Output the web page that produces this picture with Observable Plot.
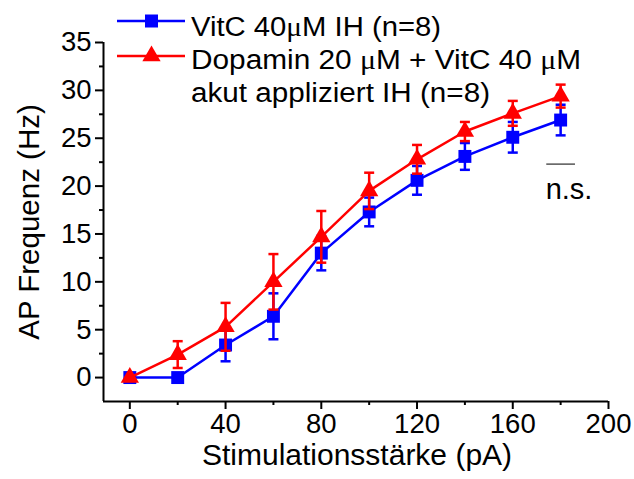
<!DOCTYPE html>
<html>
<head>
<meta charset="utf-8">
<script src="https://cdn.jsdelivr.net/npm/d3@7"></script>
<script src="https://cdn.jsdelivr.net/npm/@observablehq/plot@0.6"></script>
<style>
  html, body { margin: 0; padding: 0; background: #fff; }
  #wrap { position: relative; width: 634px; height: 479px; font-family: "Liberation Sans", Arial, sans-serif; }
  #legend { position: absolute; left: 0; top: 0; }
</style>
</head>
<body>
<div id="wrap"><div id="chart"></div><svg id="legend" width="634" height="110"></svg></div>
<script>
// Data
const stim = [0, 20, 40, 60, 80, 100, 120, 140, 160, 180];
const vitcMean = [0, 0, 3.4, 6.4, 13.0, 17.3, 20.6, 23.1, 25.1, 26.9];
const vitcSem  = [0, 0, 1.7, 2.4, 1.8, 1.5, 1.5, 1.4, 1.6, 1.6];
const dopaMean = [0, 2.4, 5.3, 10.0, 14.7, 19.5, 22.8, 25.7, 27.6, 29.4];
const dopaSem  = [0, 1.4, 2.5, 2.9, 2.7, 1.9, 1.5, 1.0, 1.3, 1.2];
const seriesColors = ["#0000ff", "#ff0000"];
const xTicks = [0, 40, 80, 120, 160, 200];
const xMinor = [20, 60, 100, 140, 180];
const yTicks = [0, 5, 10, 15, 20, 25, 30, 35];
const yMinor = [2.5, 7.5, 12.5, 17.5, 22.5, 27.5, 32.5];
const nsLine = [{x1: 174, x2: 186, y: 22.3}];
const nsText = [{x: 183.5, y: 19.6, label: "n.s."}];

const vitc = stim.map((x, i) => ({x, y: vitcMean[i], lo: vitcMean[i] - vitcSem[i], hi: vitcMean[i] + vitcSem[i]}));
const dopa = stim.map((x, i) => ({x, y: dopaMean[i], lo: dopaMean[i] - dopaSem[i], hi: dopaMean[i] + dopaSem[i]}));

const capSymbol = {draw(ctx, size) { const w = 5; ctx.moveTo(-w, 0); ctx.lineTo(w, 0); }};
const font = "Liberation Sans, Arial, sans-serif";

function seriesMarks(data, color, symbol, r) {
  return [
    Plot.ruleX(data, {x: "x", y1: "lo", y2: "hi", stroke: color, strokeWidth: 2.5}),
    Plot.dot(data, {x: "x", y: "hi", symbol: capSymbol, stroke: color, strokeWidth: 2.5, fill: "none", r: 3}),
    Plot.dot(data, {x: "x", y: "lo", symbol: capSymbol, stroke: color, strokeWidth: 2.5, fill: "none", r: 3}),
    Plot.line(data, {x: "x", y: "y", stroke: color, strokeWidth: 2.5}),
    Plot.dot(data, {x: "x", y: "y", symbol, fill: color, stroke: "none", r})
  ];
}

const chart = Plot.plot({
  width: 634,
  height: 479,
  marginLeft: 103,
  marginRight: 26,
  marginTop: 42,
  marginBottom: 78,
  style: {fontFamily: font, background: "white", overflow: "visible"},
  x: {domain: [-11, 200]},
  y: {domain: [-2.5, 35]},
  marks: [
    Plot.axisY({ticks: yMinor, tickSize: 4, tickFormat: () => "", strokeWidth: 2, label: null}),
    Plot.axisX({ticks: xMinor, tickSize: 4, tickFormat: () => "", strokeWidth: 2, label: null}),
    Plot.axisY({ticks: yTicks, tickSize: 8, tickPadding: 4, strokeWidth: 2, fontSize: 27.5, label: null, fill: "black"}),
    Plot.axisX({ticks: xTicks, tickSize: 8, tickPadding: 4, strokeWidth: 2, fontSize: 27.5, label: null, fill: "black"}),
    Plot.ruleX([-11], {stroke: "black", strokeWidth: 2}),
    Plot.ruleY([-2.5], {stroke: "black", strokeWidth: 2}),
    Plot.text(["Stimulationsstärke (pA)"], {frameAnchor: "bottom", textAnchor: "middle", dx: 1, dy: 63, fontSize: 30, fill: "black"}),
    Plot.text(["AP Frequenz (Hz)"], {frameAnchor: "left", textAnchor: "middle", dx: -74, rotate: -90, fontSize: 29.5, fill: "black"}),
    ...seriesMarks(vitc, seriesColors[0], "square", 7.3),
    ...seriesMarks(dopa, seriesColors[1], "triangle", 6.8),
    Plot.link(nsLine, {x1: "x1", x2: "x2", y1: "y", y2: "y", stroke: "black", strokeWidth: 1}),
    Plot.text(nsText, {x: "x", y: "y", text: "label", fontSize: 29, fill: "black"})
  ]
});
document.getElementById("chart").appendChild(chart);

// Legend overlay
const leg = d3.select("#legend");
const rows = [
  {y: 21, color: seriesColors[0], sym: d3.symbolSquare, size: 169,
   lines: [["VitC 40", "μ", "M IH (n=8)"]], base: [36], len: [250]},
  {y: 56, color: seriesColors[1], sym: d3.symbolTriangle, size: 145,
   lines: [["Dopamin 20 ", "μ", "M + VitC 40 ", "μ", "M"], ["akut appliziert IH (n=8)"]], base: [69, 102], len: [390, 299]}
];
rows.forEach(row => {
  leg.append("line").attr("x1", 117).attr("x2", 185).attr("y1", row.y).attr("y2", row.y)
    .attr("stroke", row.color).attr("stroke-width", 2.5);
  leg.append("path").attr("d", d3.symbol(row.sym, row.size)()).attr("transform", `translate(151.5,${row.y})`)
    .attr("fill", row.color);
  row.lines.forEach((parts, li) => {
    const t = leg.append("text").attr("x", 191).attr("y", row.base[li])
      .attr("font-family", font).attr("font-size", 27).attr("fill", "black")
      .attr("textLength", row.len[li]).attr("lengthAdjust", "spacingAndGlyphs");
    parts.forEach(p => {
      const ts = t.append("tspan").text(p);
      if (p === "μ") ts.attr("font-family", "Liberation Serif, Times New Roman, serif");
    });
  });
});
</script>
</body>
</html>
